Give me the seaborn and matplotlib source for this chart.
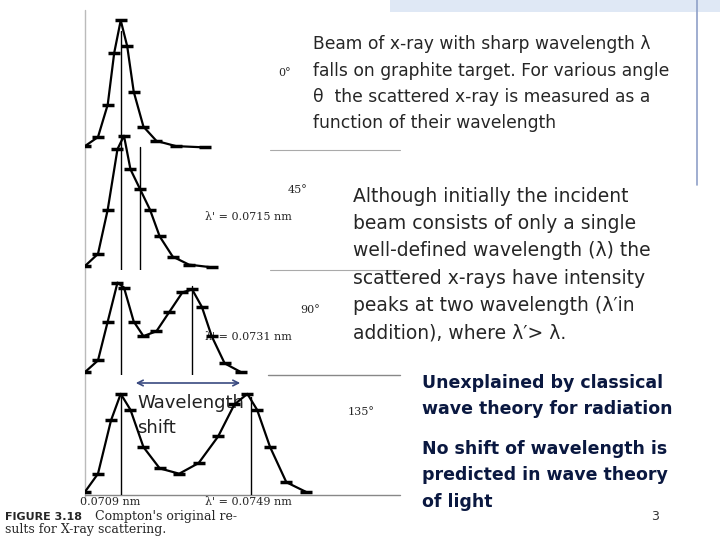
import numpy as np
import pandas as pd
import matplotlib
matplotlib.use("Agg")
import matplotlib.pyplot as plt
import seaborn as sns

# scattered intensity (arbitrary units) vs wavelength (nm)
wl_0 = [0.0698, 0.0702, 0.0705, 0.0707, 0.0709, 0.0711, 0.0713, 0.0716, 0.0720, 0.0726, 0.0735]
in_0 = [0.03, 0.10, 0.35, 0.75, 1.00, 0.80, 0.45, 0.18, 0.07, 0.03, 0.02]

wl_45 = [0.0698, 0.0702, 0.0705, 0.0708, 0.0710, 0.0712, 0.0715, 0.0718, 0.0721, 0.0725, 0.0730, 0.0737]
in_45 = [0.03, 0.12, 0.45, 0.90, 1.00, 0.75, 0.60, 0.45, 0.25, 0.10, 0.04, 0.02]

wl_90 = [0.0698, 0.0702, 0.0705, 0.0708, 0.0710, 0.0713, 0.0716, 0.0720, 0.0724, 0.0728, 0.0731,
         0.0734, 0.0737, 0.0741, 0.0746]
in_90 = [0.03, 0.15, 0.55, 0.95, 0.90, 0.55, 0.40, 0.45, 0.65, 0.85, 0.88, 0.70, 0.40, 0.12, 0.03]

wl_135 = [0.0698, 0.0702, 0.0706, 0.0709, 0.0712, 0.0716, 0.0721, 0.0727, 0.0733, 0.0739, 0.0744,
          0.0748, 0.0751, 0.0755, 0.0760, 0.0766]
in_135 = [0.03, 0.20, 0.70, 0.95, 0.80, 0.45, 0.25, 0.20, 0.30, 0.55, 0.85, 0.95, 0.80, 0.45, 0.12, 0.03]

peaks = [[0.0709], [0.0709, 0.0715], [0.0709, 0.0731], [0.0709, 0.0749]]
angles = ["0°", "45°", "90°", "135°"]
curves = [(wl_0, in_0), (wl_45, in_45), (wl_90, in_90), (wl_135, in_135)]

sns.set_style("white")
plt.rcParams["font.family"] = ["DejaVu Sans"]

fig = plt.figure(figsize=(7.2, 5.4), dpi=100)
bg = fig.add_axes([0, 0, 1, 1])
bg.set_xlim(0, 720)
bg.set_ylim(540, 0)
bg.axis("off")

# left panel rows: top and bottom pixel of each curve box
rows = [(10, 150), (125, 270), (270, 375), (380, 495)]
x0, x1 = 85, 400
for (wl, it), pk, ang, (top, bot) in zip(curves, peaks, angles, rows):
    ax = fig.add_axes([x0 / 720, 1 - bot / 540, (x1 - x0) / 720, (bot - top) / 540])
    ax.patch.set_alpha(0)
    df = pd.DataFrame({"wl": wl, "I": it})
    sns.lineplot(data=df, x="wl", y="I", ax=ax, color="black", lw=1.6,
                 marker="_", markersize=9, markeredgewidth=2.5, mec="black")
    for p in pk:
        ax.axvline(p, ymax=0.85, color="black", lw=1)
    ax.set_xlim(0.0698, 0.0795)
    ax.set_ylim(0, 1.08)
    ax.axis("off")

bg.plot([85, 85], [10, 500], color="#bbbbbb", lw=1)
bg.plot([85, 400], [495, 495], color="#888888", lw=1)
bg.plot([268, 400], [375, 375], color="#888888", lw=1)
for y in [150, 270]:
    bg.plot([270, 400], [y, y], color="#aaaaaa", lw=0.8)
for txt, x, y in [("0°", 278, 76), ("45°", 288, 193), ("90°", 300, 313), ("135°", 348, 415)]:
    bg.text(x, y, txt, fontsize=8, family="serif")
bg.text(205, 220, "λ' = 0.0715 nm", fontsize=8, family="serif")
bg.text(205, 340, "λ' = 0.0731 nm", fontsize=8, family="serif")
bg.text(80, 505, "0.0709 nm", fontsize=8, family="serif")
bg.text(205, 505, "λ' = 0.0749 nm", fontsize=8, family="serif")
bg.text(5, 520, "FIGURE 3.18", fontsize=8, weight="bold", family="sans-serif")
bg.text(95, 520, "Compton's original re-", fontsize=9, family="serif")
bg.text(5, 533, "sults for X-ray scattering.", fontsize=9, family="serif")

bg.annotate("", xy=(243, 383), xytext=(133, 383),
            arrowprops=dict(arrowstyle="<->", color="#3a4a80", lw=1.2))
bg.text(137, 403, "Wavelength", fontsize=13, va="center", color="#222222")
bg.text(137, 428, "shift", fontsize=13, va="center", color="#222222")

# right hand text
beam = ["Beam of x-ray with sharp wavelength λ",
        "falls on graphite target. For various angle",
        "θ  the scattered x-ray is measured as a",
        "function of their wavelength"]
for i, t in enumerate(beam):
    bg.text(313, 44 + i * 26.5, t, fontsize=12.3, va="center")
para = ["Although initially the incident",
        "beam consists of only a single",
        "well-defined wavelength (λ) the",
        "scattered x-rays have intensity",
        "peaks at two wavelength (λ′in",
        "addition), where λ′> λ."]
for i, t in enumerate(para):
    bg.text(353, 196 + i * 27.4, t, fontsize=13.5, va="center")
for i, t in enumerate(["Unexplained by classical", "wave theory for radiation"]):
    bg.text(422, 383 + i * 26, t, fontsize=12.5, weight="bold", va="center", color="#0a1840")
for i, t in enumerate(["No shift of wavelength is", "predicted in wave theory", "of light"]):
    bg.text(422, 449 + i * 26.5, t, fontsize=12.5, weight="bold", va="center", color="#0a1840")
bg.text(651, 517, "3", fontsize=9, va="center", color="#333333")

bg.plot([697, 697], [0, 185], color="#8fa0c8", lw=1.2)
bg.add_patch(plt.Rectangle((390, 0), 330, 12, color="#dfe8f5", lw=0))

fig.savefig("out.png", dpi=100)
